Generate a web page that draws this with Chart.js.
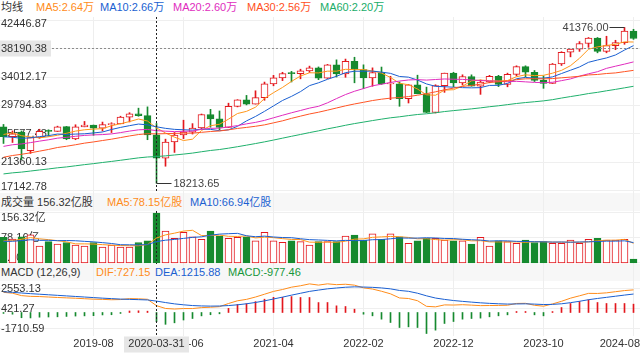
<!DOCTYPE html>
<html>
<head>
<meta charset="utf-8">
<script src="https://cdn.jsdelivr.net/npm/chart.js@4.4.1/dist/chart.umd.min.js"></script>
<style>
  body { margin: 0; width: 640px; height: 354px; position: relative; overflow: hidden; background: #fff;
         font: 11px "Liberation Sans", Arial, "Noto Sans CJK SC", sans-serif; color: #333; }
  canvas { position: absolute; left: 0; }
  .band { position: absolute; left: 0; width: 640px; background: #f7f7f7; }
  .vgrid { position: absolute; top: 17px; height: 319px; width: 1px; background: #eeeeee; }
  .hdr { position: absolute; left: 0; width: 640px; white-space: nowrap; }
  .hdr span { position: absolute; top: 0; }
</style>
</head>
<body>
<div class="band" style="top:193px;height:18px"></div>
<div class="band" style="top:264px;height:17px"></div>
<div id="grid"></div>

<canvas id="price" width="640" height="176" style="top:17px"></canvas>
<canvas id="vol" width="640" height="53" style="top:211px"></canvas>
<canvas id="macd" width="640" height="73" style="top:281px"></canvas>

<div class="hdr" style="top:0;height:15px;line-height:15px">
  <span style="left:1px">均线</span>
  <span style="left:36px;color:#ff8c1a">MA5:2.64万</span>
  <span style="left:100px;color:#1a5fd1">MA10:2.66万</span>
  <span style="left:173px;color:#e02cbe">MA20:2.60万</span>
  <span style="left:247px;color:#ff5022">MA30:2.56万</span>
  <span style="left:320px;color:#19ad69">MA60:2.20万</span>
</div>
<div class="hdr" style="top:193px;height:18px;line-height:18px">
  <span style="left:1px">成交量 156.32亿股</span>
  <span style="left:107px;color:#ff8c1a">MA5:78.15亿股</span>
  <span style="left:190px;color:#1a5fd1">MA10:66.94亿股</span>
</div>
<div class="hdr" style="top:264px;height:17px;line-height:17px">
  <span style="left:1px">MACD (12,26,9)</span>
  <span style="left:96px;color:#ff8c1a">DIF:727.15</span>
  <span style="left:155px;color:#1a5fd1">DEA:1215.88</span>
  <span style="left:228px;color:#16963a">MACD:-977.46</span>
</div>

<script>
// Monatskerzen 2018-10 .. 2024-08
const months = [
  '2018-10','2018-11','2018-12','2019-01','2019-02','2019-03','2019-04','2019-05','2019-06','2019-07',
  '2019-08','2019-09','2019-10','2019-11','2019-12','2020-01','2020-02','2020-03','2020-04','2020-05',
  '2020-06','2020-07','2020-08','2020-09','2020-10','2020-11','2020-12','2021-01','2021-02','2021-03',
  '2021-04','2021-05','2021-06','2021-07','2021-08','2021-09','2021-10','2021-11','2021-12','2022-01',
  '2022-02','2022-03','2022-04','2022-05','2022-06','2022-07','2022-08','2022-09','2022-10','2022-11',
  '2022-12','2023-01','2023-02','2023-03','2023-04','2023-05','2023-06','2023-07','2023-08','2023-09',
  '2023-10','2023-11','2023-12','2024-01','2024-02','2024-03','2024-04','2024-05','2024-06','2024-07',
  '2024-08'];

const open = [
  26598, 25116, 25826, 23058, 24999, 25932, 25929, 26639, 24815, 26600,
  26864, 26403, 26917, 27046, 28051, 28538, 28256, 25409, 21917, 24346,
  25383, 25813, 26428, 28430, 27782, 26502, 29639, 30606, 29983, 30932,
  32981, 33875, 34529, 34503, 34935, 35361, 33844, 35820, 34484, 36338,
  35132, 33893, 34678, 32977, 32990, 30775, 32845, 31510, 28725, 32732,
  34590, 33147, 34086, 32657, 33274, 34098, 32908, 34408, 35560, 34722,
  33508, 33053, 35951, 37690, 38150, 38996, 39807, 37816, 38686, 39119,
  40843];
const high = [
  26952, 25985, 25980, 25056, 26241, 26155, 26696, 26659, 26907, 27399,
  26864, 27306, 27207, 28175, 28701, 29374, 29568, 27102, 24765, 25758,
  27581, 27075, 28502, 29199, 28958, 30116, 30637, 31272, 31961, 33259,
  34256, 34712, 34849, 35171, 35631, 35510, 35892, 36566, 36679, 36953,
  35824, 35372, 35493, 34118, 33272, 32910, 34281, 32504, 32861, 34590,
  34712, 34342, 34335, 33572, 34257, 34258, 34588, 35679, 35679, 34979,
  34171, 36025, 37778, 38150, 39282, 39890, 39889, 40077, 39476, 41376,
  41112];
const low = [
  24122, 24268, 21713, 22639, 24883, 25208, 25903, 24680, 24681, 26600,
  25339, 25979, 25743, 27046, 27325, 28170, 24681, 18213.65, 20735, 22789,
  24843, 25523, 26290, 26537, 26143, 26502, 29566, 29857, 29983, 30547,
  32705, 33473, 33271, 33742, 34688, 33613, 33785, 34006, 33971, 33150,
  32273, 32632, 32913, 30636, 29653, 30143, 31509, 28715, 28661, 31727,
  32573, 32812, 32638, 31429, 33152, 32586, 32553, 34181, 34030, 33336,
  32327, 33053, 35728, 37012, 37824, 38424, 37612, 37611, 38074, 38880,
  39611];
const close = [
  25116, 25538, 23327, 24999, 25916, 25929, 26593, 24815, 26600, 26864,
  26403, 26917, 27046, 28051, 28538, 28256, 25409, 21917, 24346, 25383,
  25813, 26428, 28430, 27782, 26502, 29639, 30606, 29983, 30932, 32981,
  33875, 34529, 34503, 34935, 35361, 33844, 35820, 34484, 36338, 35132,
  33893, 34678, 32977, 32990, 30775, 32845, 31510, 28725, 32732, 34590,
  33147, 34086, 32657, 33274, 34098, 32908, 34408, 35560, 34722, 33508,
  33053, 35951, 37690, 38150, 38996, 39807, 37816, 38686, 39119, 40843,
  39737];

// Durchschnittslinien
const ma5 = [
  25460, 25700, 25280, 25080, 24960, 25120, 25340, 25640, 25960, 26160,
  26260, 26320, 26760, 27060, 27380, 27760, 27460, 26434, 25680, 25060,
  24560, 24760, 26060, 26760, 26980, 27740, 28580, 28900, 29520, 30820,
  31680, 32460, 33360, 34160, 34640, 34620, 34880, 34880, 35160, 35100,
  35120, 34900, 34600, 33940, 33080, 32860, 32220, 31360, 31300, 32060,
  32120, 32640, 33440, 33560, 33460, 33420, 33480, 34060, 34340, 34220,
  34260, 34580, 35000, 35700, 36800, 38140, 38500, 38700, 38880, 39240,
  39220];
const ma10 = [
  25110, 25050, 24880, 24970, 25140, 25290, 25520, 25460, 25520, 25560,
  25690, 25830, 26200, 26510, 26770, 27010, 26890, 26600, 26370, 26220,
  26160, 26110, 26250, 26220, 26020, 26150, 26670, 27480, 28140, 28900,
  29710, 30520, 31130, 31840, 32730, 33150, 33670, 34120, 34660, 34870,
  34870, 34890, 34740, 34550, 34090, 33990, 33560, 32980, 32620, 32570,
  32490, 32430, 32400, 32430, 32760, 32770, 33060, 33750, 33950, 33840,
  33840, 34030, 34530, 35020, 35510, 36200, 36540, 36850, 37290, 38020,
  38680];
const ma20 = [
  23690, 23930, 24050, 24250, 24470, 24670, 24910, 25030, 25190, 25320,
  25400, 25440, 25540, 25740, 25960, 26150, 26210, 26030, 25950, 25890,
  25930, 25970, 26230, 26370, 26400, 26580, 26780, 27040, 27260, 27560,
  27940, 28320, 28690, 29030, 29380, 29650, 30170, 30800, 31400, 31890,
  32290, 32710, 32940, 33200, 33410, 33570, 33620, 33550, 33640, 33720,
  33680, 33660, 33570, 33490, 33430, 33380, 33310, 33370, 33290, 33210,
  33170, 33230, 33470, 33730, 34140, 34490, 34800, 35300, 35620, 35930,
  36260];
const ma30 = [
  22070, 22330, 22510, 22730, 22980, 23230, 23520, 23710, 23930, 24170,
  24350, 24560, 24760, 25000, 25240, 25450, 25570, 25550, 25580, 25620,
  25650, 25660, 25780, 25900, 25980, 26150, 26360, 26510, 26680, 26890,
  27190, 27490, 27860, 28190, 28510, 28770, 29080, 29400, 29720, 30000,
  30250, 30510, 30710, 30870, 30950, 31100, 31300, 31530, 31810, 32110,
  32360, 32610, 32760, 32940, 33190, 33300, 33430, 33620, 33740, 33760,
  33730, 33780, 33890, 34000, 34120, 34320, 34390, 34530, 34620, 34810,
  35000];
const ma60 = [
  19590, 19750, 19860, 20020, 20180, 20330, 20500, 20630, 20800, 20970,
  21120, 21290, 21450, 21620, 21800, 21980, 22110, 22170, 22280, 22410,
  22540, 22690, 22890, 23080, 23220, 23420, 23640, 23870, 24110, 24360,
  24630, 24910, 25190, 25460, 25740, 26000, 26300, 26550, 26830, 27080,
  27300, 27530, 27740, 27940, 28090, 28270, 28430, 28540, 28690, 28870,
  29010, 29140, 29270, 29420, 29590, 29730, 29900, 30070, 30210, 30330,
  30460, 30640, 30880, 31100, 31310, 31550, 31730, 31960, 32170, 32400,
  32630];

// Volumen in 亿股
const volume = [
  80, 75, 82, 88, 53, 67, 59, 64, 56, 53,
  64, 50, 56, 50, 50, 64, 69, 156.32, 100, 77,
  96, 82, 74, 100, 84, 77, 80, 82, 69, 96,
  69, 65, 69, 67, 56, 67, 67, 67, 84, 87.5,
  72, 91, 74, 91, 82, 61.5, 69, 77, 77, 72,
  69, 69, 59, 80, 53, 69, 67, 61.5, 72, 64,
  67, 61.5, 61.5, 72, 61.5, 74, 77, 72, 72, 74,
  12.5];
const volMa5 = [
  68.8, 69.8, 74.2, 79.4, 75.6, 73.0, 69.8, 66.2, 59.8, 59.8,
  59.2, 57.4, 55.8, 54.6, 54.0, 54.0, 57.8, 78.15, 87.9, 93.3,
  99.7, 102.3, 85.8, 85.8, 87.2, 83.4, 83.0, 84.6, 78.4, 80.8,
  79.2, 76.2, 73.6, 73.2, 65.2, 64.8, 65.2, 64.8, 68.2, 74.5,
  75.5, 80.3, 81.7, 83.1, 82.0, 79.9, 75.5, 76.1, 73.3, 71.3,
  72.8, 72.8, 69.2, 69.8, 66.0, 66.0, 65.6, 66.1, 64.5, 66.7,
  66.3, 65.2, 65.2, 65.2, 64.7, 66.1, 69.2, 71.3, 71.3, 73.8,
  61.5];
const volMa10 = [
  67.4, 67.9, 70.1, 72.7, 70.8, 70.9, 69.8, 70.2, 69.6, 67.7,
  66.1, 63.6, 61.0, 57.2, 56.9, 56.6, 57.6, 66.94, 71.3, 73.7,
  76.9, 80.1, 81.9, 86.9, 90.3, 91.6, 92.7, 85.2, 82.1, 84.0,
  81.3, 79.6, 79.1, 75.8, 73.0, 72.0, 70.7, 69.2, 70.7, 69.9,
  70.2, 72.8, 73.3, 75.7, 78.3, 77.7, 77.9, 78.9, 78.2, 76.7,
  76.4, 74.2, 72.7, 71.6, 68.7, 69.4, 69.2, 67.7, 67.2, 66.4,
  66.2, 65.4, 65.7, 64.9, 65.7, 66.2, 67.2, 68.3, 68.3, 69.3,
  63.8];

// MACD (12,26,9)
const dif = [
  2150, 2060, 1800, 1720, 1700, 1650, 1600, 1560, 1520, 1470,
  1420, 1400, 1360, 1380, 1480, 1460, 1408, 727.15, 430, 370,
  420, 420, 520, 560, 620, 960, 1250, 1400, 1650, 1950,
  2250, 2450, 2700, 2850, 3050, 2920, 3056, 2967, 3012, 2914,
  2624, 2500, 2265, 1990, 1550, 1492, 1257, 657, 602, 811,
  796, 832, 787, 732, 744, 752, 774, 966, 979, 769,
  672, 913, 1194, 1529, 1780, 2039, 2030, 2097, 2217, 2337,
  2413];
const dea = [
  2200, 2150, 2080, 2010, 1950, 1890, 1830, 1770, 1710, 1650,
  1590, 1530, 1480, 1430, 1400, 1370, 1338, 1215.88, 1060, 920,
  820, 740, 700, 680, 690, 740, 820, 930, 1070, 1240,
  1440, 1640, 1850, 2050, 2250, 2390, 2523, 2612, 2692, 2736,
  2714, 2680, 2620, 2520, 2350, 2257, 2057, 1777, 1542, 1396,
  1276, 1187, 1107, 1032, 974, 930, 899, 912, 925, 894,
  850, 863, 929, 1049, 1195, 1364, 1497, 1617, 1737, 1857,
  1968];
const macdHist = [
  -100, -180, -560, -580, -500, -480, -460, -420, -380, -360,
  -340, -260, -240, -100, 160, 180, 140, -977.46, -1260, -1100,
  -800, -640, -360, -240, -140, 440, 860, 940, 1160, 1420,
  1620, 1620, 1700, 1600, 1600, 1060, 1065, 710, 640, 355,
  -180, -355, -710, -1065, -1600, -1530, -1600, -2240, -1880, -1170,
  -960, -710, -640, -600, -460, -355, -250, 107, 107, -250,
  -355, 100, 530, 960, 1170, 1350, 1065, 960, 960, 960,
  890];

// Achsenbeschriftungen
const priceTicks = [42446.87, 38229.52, 34012.17, 29794.83, 25577.48, 21360.13, 17142.78];
const volTicks = [156.32, 78.16, 0];
const macdTicks = [2553.13, 421.27, -1710.59];
const xTickMonths = ['2019-08', '2020-06', '2021-04', '2022-02', '2022-12', '2023-10', '2024-08'];
const crossMonth = '2020-03';
const crossPrice = 38190.38;

const RED = '#e3171d';
const GREEN = '#168a2f';
const FONT = '11px "Liberation Sans", Arial, "Noto Sans CJK SC", sans-serif';
const crossIdx = months.indexOf(crossMonth);
const isUp = close.map((c, i) => c >= open[i]);

// vertikale Gitterlinien
xTickMonths.forEach(m => {
  const d = document.createElement('div');
  d.className = 'vgrid';
  d.style.left = (3 + 9 * months.indexOf(m)) + 'px';
  document.getElementById('grid').appendChild(d);
});

function baseOptions(min, max, padBottom) {
  return {
    responsive: false,
    animation: false,
    events: [],
    devicePixelRatio: 1,
    layout: { padding: { left: 3.5, right: 6.5, top: 0, bottom: padBottom || 0 } },
    plugins: { legend: { display: false }, tooltip: { enabled: false } },
    scales: {
      x: { display: false, offset: false },
      y: { display: false, min: min, max: max }
    }
  };
}

function line(ctx, x1, y1, x2, y2) {
  ctx.beginPath(); ctx.moveTo(x1, y1); ctx.lineTo(x2, y2); ctx.stroke();
}

// Gitter + linke Beschriftung unter den Daten
function panelPlugin(ticks, fmt) {
  return {
    id: 'panel',
    beforeDatasetsDraw(chart) {
      const { ctx, scales: { y }, width, chartArea } = chart;
      ctx.save();
      ctx.strokeStyle = '#efefef';
      ctx.lineWidth = 1;
      ticks.forEach(t => {
        const py = Math.floor(y.getPixelForValue(t)) + 0.5;
        line(ctx, 0, py, width, py);
      });
      ctx.fillStyle = '#333';
      ctx.font = FONT;
      ctx.textBaseline = 'middle';
      ctx.textAlign = 'left';
      ticks.forEach(t => {
        let py = y.getPixelForValue(t);
        py = Math.max(chartArea.top + 7, Math.min(chartArea.bottom - 6.5, py));
        ctx.fillText(fmt(t), 1, py);
      });
      ctx.restore();
    },
    afterDatasetsDraw(chart) {
      const { ctx, scales: { x }, chartArea } = chart;
      const cx = Math.floor(x.getPixelForValue(crossIdx)) + 0.5;
      ctx.save();
      ctx.strokeStyle = '#222';
      ctx.lineWidth = 1;
      ctx.setLineDash([2, 2]);
      line(ctx, cx, chartArea.top, cx, chartArea.bottom);
      ctx.restore();
    }
  };
}

const priceDecor = {
  id: 'priceDecor',
  afterDatasetsDraw(chart) {
    const { ctx, scales: { x, y }, width } = chart;
    ctx.save();
    ctx.font = FONT;
    ctx.textBaseline = 'middle';
    // waagerechtes Fadenkreuz
    const hy = Math.floor(y.getPixelForValue(crossPrice)) + 0.5;
    ctx.strokeStyle = '#8c8c8c';
    ctx.setLineDash([2, 2]);
    line(ctx, 52, hy, width, hy);
    ctx.setLineDash([]);
    ctx.fillStyle = '#e6e6e6';
    ctx.fillRect(0, hy - 8, 51, 16);
    ctx.fillStyle = '#333';
    ctx.textAlign = 'left';
    ctx.fillText(crossPrice.toFixed(2), 1, hy);

    // Hoch und Tief markieren
    const hiIdx = high.indexOf(Math.max(...high));
    const loIdx = low.indexOf(Math.min(...low));
    ctx.strokeStyle = '#333';
    const hx = Math.floor(x.getPixelForValue(hiIdx)) + 0.5;
    const hyy = Math.floor(y.getPixelForValue(high[hiIdx])) + 0.5;
    line(ctx, hx - 15, hyy, hx, hyy);
    ctx.fillStyle = '#444';
    ctx.textAlign = 'right';
    ctx.fillText(high[hiIdx].toFixed(2), hx - 16, hyy);
    const lx = Math.floor(x.getPixelForValue(loIdx)) + 0.5;
    const lyy = Math.floor(y.getPixelForValue(low[loIdx])) + 0.5;
    line(ctx, lx, lyy, lx + 15, lyy);
    ctx.textAlign = 'left';
    ctx.fillText(low[loIdx].toFixed(2), lx + 17, lyy);
    ctx.restore();
  }
};

const timeAxis = {
  id: 'timeAxis',
  afterDraw(chart) {
    const { ctx, scales: { x }, width, chartArea } = chart;
    const ly = chartArea.bottom + 7.5;
    ctx.save();
    ctx.font = FONT;
    ctx.textBaseline = 'middle';
    ctx.textAlign = 'left';
    ctx.fillStyle = '#333';
    xTickMonths.forEach(m => {
      const px = x.getPixelForValue(months.indexOf(m));
      const w = ctx.measureText(m).width;
      let left = px - w / 2;
      if (left + w > width) left = width - w;
      ctx.fillText(m, left, ly);
    });
    const cx = Math.floor(x.getPixelForValue(crossIdx)) + 0.5;
    ctx.fillStyle = '#e6e6e6';
    ctx.fillRect(cx - 32.5, chartArea.bottom + 0.5, 65, 16);
    ctx.fillStyle = '#333';
    ctx.textAlign = 'center';
    ctx.fillText('2020-03-31', cx, ly);
    ctx.restore();
  }
};

function maLine(data, color) {
  return { type: 'line', data: data, borderColor: color, borderWidth: 1, pointRadius: 0,
           tension: 0, clip: false, order: 0 };
}

// Kurs mit Kerzen
new Chart(document.getElementById('price'), {
  type: 'bar',
  data: {
    labels: months,
    datasets: [
      {
        data: months.map((m, i) => [low[i], high[i]]),
        backgroundColor: isUp.map(u => u ? RED : GREEN),
        barThickness: 1, grouped: false, clip: false, order: 3
      },
      {
        data: months.map((m, i) => [open[i], close[i]]),
        backgroundColor: isUp.map(u => u ? '#ffffff' : GREEN),
        borderColor: isUp.map(u => u ? RED : GREEN),
        borderWidth: 1, borderSkipped: false, minBarLength: 1,
        barThickness: 7, grouped: false, clip: false, order: 2
      },
      maLine(ma60, '#1fb06c'),
      maLine(ma30, '#ff5424'),
      maLine(ma20, '#e02cbe'),
      maLine(ma10, '#1a5fd1'),
      maLine(ma5, '#ff961a')
    ]
  },
  options: baseOptions(16751.4, 42940.2),
  plugins: [panelPlugin(priceTicks, v => v.toFixed(2)), priceDecor]
});

// Volumen
new Chart(document.getElementById('vol'), {
  type: 'bar',
  data: {
    labels: months,
    datasets: [
      {
        data: volume,
        backgroundColor: isUp.map(u => u ? '#ffffff' : GREEN),
        borderColor: isUp.map(u => u ? RED : GREEN),
        borderWidth: 1, borderSkipped: false,
        barThickness: 7, grouped: false, clip: false, order: 2
      },
      maLine(volMa10, '#1a5fd1'),
      maLine(volMa5, '#ff961a')
    ]
  },
  options: baseOptions(-3.13, 162.57),
  plugins: [panelPlugin(volTicks, v => v === 0 ? '0.00' : v.toFixed(2) + '亿')]
});

// MACD
new Chart(document.getElementById('macd'), {
  type: 'bar',
  data: {
    labels: months,
    datasets: [
      {
        data: macdHist,
        backgroundColor: macdHist.map(v => v >= 0 ? RED : GREEN),
        barThickness: 1, grouped: false, clip: false, order: 2
      },
      maLine(dea, '#1a5fd1'),
      maLine(dif, '#ff8c1a')
    ]
  },
  options: baseOptions(-2505.1, 3357.9, 18),
  plugins: [panelPlugin(macdTicks, v => v.toFixed(2)), timeAxis]
});
</script>
</body>
</html>
